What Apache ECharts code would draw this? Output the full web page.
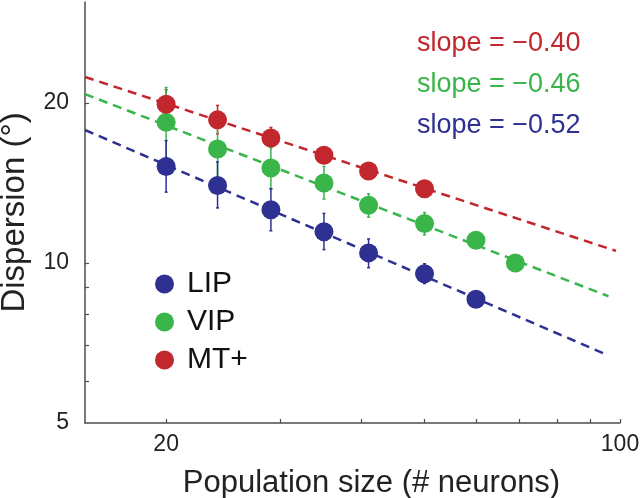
<!DOCTYPE html>
<html>
<head>
<meta charset="utf-8">
<script src="https://cdn.jsdelivr.net/npm/echarts@6/dist/echarts.min.js"></script>
<style>
  html, body { margin: 0; padding: 0; background: #fff; }
  #chart { width: 640px; height: 498px; }
</style>
</head>
<body>
<div id="chart"></div>
<script>
// population sizes (x, # neurons)
const popSize = [20, 24, 29, 35, 41, 50, 60, 69];

// mean dispersion (deg) and error bar ends, per area
const lipMean = [15.2, 14.0, 12.6, 11.45, 10.45, 9.55, 8.55];
const lipLow  = [13.6, 12.7, 11.5, 10.6, 9.8, 9.15, 8.4];
const lipHigh = [17.0, 15.5, 13.8, 12.4, 11.1, 9.97, 8.7];

const vipMean = [18.4, 16.4, 15.1, 14.15, 12.85, 11.87, 11.04, 10.0];
const vipLow  = [15.8, 14.5, 13.8, 13.2, 12.2, 11.3, 10.75, 9.8];
const vipHigh = [21.4, 18.5, 16.5, 15.2, 13.5, 12.45, 11.3, 10.2];

const mtMean = [19.9, 18.6, 17.2, 15.95, 14.9, 13.8];
const mtLow  = [18.65, 17.5, 16.5, 15.4, 14.6, 13.6];
const mtHigh = [21.2, 19.8, 18.0, 16.4, 15.2, 14.0];

// ends of the fitted power-law lines
const lipFitX = [15, 96];
const lipFitY = [17.8, 6.70];
const vipFitX = [15, 96];
const vipFitY = [20.8, 8.66];
const mtFitX = [15, 98.6];
const mtFitY = [22.4, 10.54];

const slopeLabels = ['\u22120.40', '\u22120.46', '\u22120.52']; // MT+, VIP, LIP

const xTicks = [20, 30, 40, 50, 60, 70, 80, 90, 100];
const xLabels = [20, 100];
const yTicks = [6, 7, 8, 9, 10, 20];
const yLabels = [5, 10, 20];

const RED = '#c1272d', GREEN = '#39b54a', BLUE = '#2e3192';
const FONT = 'Liberation Sans, Arial, sans-serif';

function pairs(xs, ys) {
  return ys.map(function (y, i) { return [xs[i], y]; });
}
function bars(xs, lo, hi) {
  return lo.map(function (l, i) { return [xs[i], l, hi[i]]; });
}

function renderBar(params, api) {
  const top = api.coord([api.value(0), api.value(2)]);
  const bot = api.coord([api.value(0), api.value(1)]);
  const st = { stroke: api.visual('color'), lineWidth: 1.5 };
  return {
    type: 'group',
    children: [
      { type: 'line', shape: { x1: top[0], y1: top[1], x2: bot[0], y2: bot[1] }, style: st },
      { type: 'line', shape: { x1: top[0] - 1.5, y1: top[1], x2: top[0] + 1.5, y2: top[1] }, style: st },
      { type: 'line', shape: { x1: bot[0] - 1.5, y1: bot[1], x2: bot[0] + 1.5, y2: bot[1] }, style: st }
    ]
  };
}

function errSeries(name, color, data) {
  return {
    name: name, type: 'custom', renderItem: renderBar, data: data,
    encode: { x: 0, y: [1, 2] }, itemStyle: { color: color }, z: 3, silent: true
  };
}
function fitSeries(name, color, data) {
  return {
    name: name, type: 'line', data: data, showSymbol: false, symbol: 'none', z: 2,
    lineStyle: { color: color, width: 2.5, type: [9, 6] }, silent: true
  };
}
function dotSeries(name, color, data) {
  return {
    name: name, type: 'scatter', data: data, symbol: 'circle', symbolSize: 19, z: 5,
    itemStyle: { color: color, opacity: 1 }
  };
}

const slopeTitles = [RED, GREEN, BLUE].map(function (c, i) {
  return {
    text: 'slope = ' + slopeLabels[i],
    left: 417, top: 30 + i * 41, padding: 0,
    textStyle: { color: c, fontSize: 27, fontWeight: 'normal', fontFamily: FONT }
  };
});

const chart = echarts.init(document.getElementById('chart'), null, { renderer: 'canvas' });
chart.setOption({
  animation: false,
  backgroundColor: '#fff',
  title: slopeTitles,
  grid: { left: 85, right: 20, top: 2, bottom: 75, containLabel: false, outerBoundsMode: 'none' },
  legend: {
    data: ['LIP', 'VIP', 'MT+'],
    orient: 'vertical', left: 150, top: 264,
    icon: 'circle', itemWidth: 19, itemHeight: 19, itemGap: 8,
    textStyle: { fontSize: 30, color: '#111', fontFamily: FONT, padding: [0, 0, 0, 8] }
  },
  xAxis: {
    type: 'log', logBase: 10, min: 15, max: 100,
    name: 'Population size (# neurons)', nameLocation: 'middle', nameGap: 45,
    nameTextStyle: { fontSize: 31, color: '#222', fontFamily: FONT, padding: [0, 0, 0, 38] },
    axisLine: { lineStyle: { color: '#4d4d4d', width: 1.5 } },
    axisTick: { inside: true, length: 4, customValues: xTicks, lineStyle: { color: '#4d4d4d', width: 1.2 } },
    axisLabel: { customValues: xLabels, fontSize: 23, color: '#222', margin: 10, fontFamily: FONT },
    splitLine: { show: false }, minorTick: { show: false }
  },
  yAxis: {
    type: 'log', logBase: 10, min: 5, max: 31,
    name: 'Dispersion (\u00b0)', nameLocation: 'middle', nameGap: 54, nameRotate: 90,
    nameTextStyle: { fontSize: 33, color: '#222', fontFamily: FONT },
    axisLine: { lineStyle: { color: '#4d4d4d', width: 1.5 } },
    axisTick: { inside: true, length: 4, customValues: yTicks, lineStyle: { color: '#4d4d4d', width: 1.2 } },
    axisLabel: { customValues: yLabels, fontSize: 23, color: '#222', margin: 16, fontFamily: FONT },
    splitLine: { show: false }, minorTick: { show: false }
  },
  series: [
    fitSeries('MT+ fit', RED, pairs(mtFitX, mtFitY)),
    fitSeries('VIP fit', GREEN, pairs(vipFitX, vipFitY)),
    fitSeries('LIP fit', BLUE, pairs(lipFitX, lipFitY)),
    errSeries('MT+ err', RED, bars(popSize, mtLow, mtHigh)),
    errSeries('VIP err', GREEN, bars(popSize, vipLow, vipHigh)),
    errSeries('LIP err', BLUE, bars(popSize, lipLow, lipHigh)),
    dotSeries('LIP', BLUE, pairs(popSize, lipMean)),
    dotSeries('VIP', GREEN, pairs(popSize, vipMean)),
    dotSeries('MT+', RED, pairs(popSize, mtMean))
  ]
});
</script>
</body>
</html>
